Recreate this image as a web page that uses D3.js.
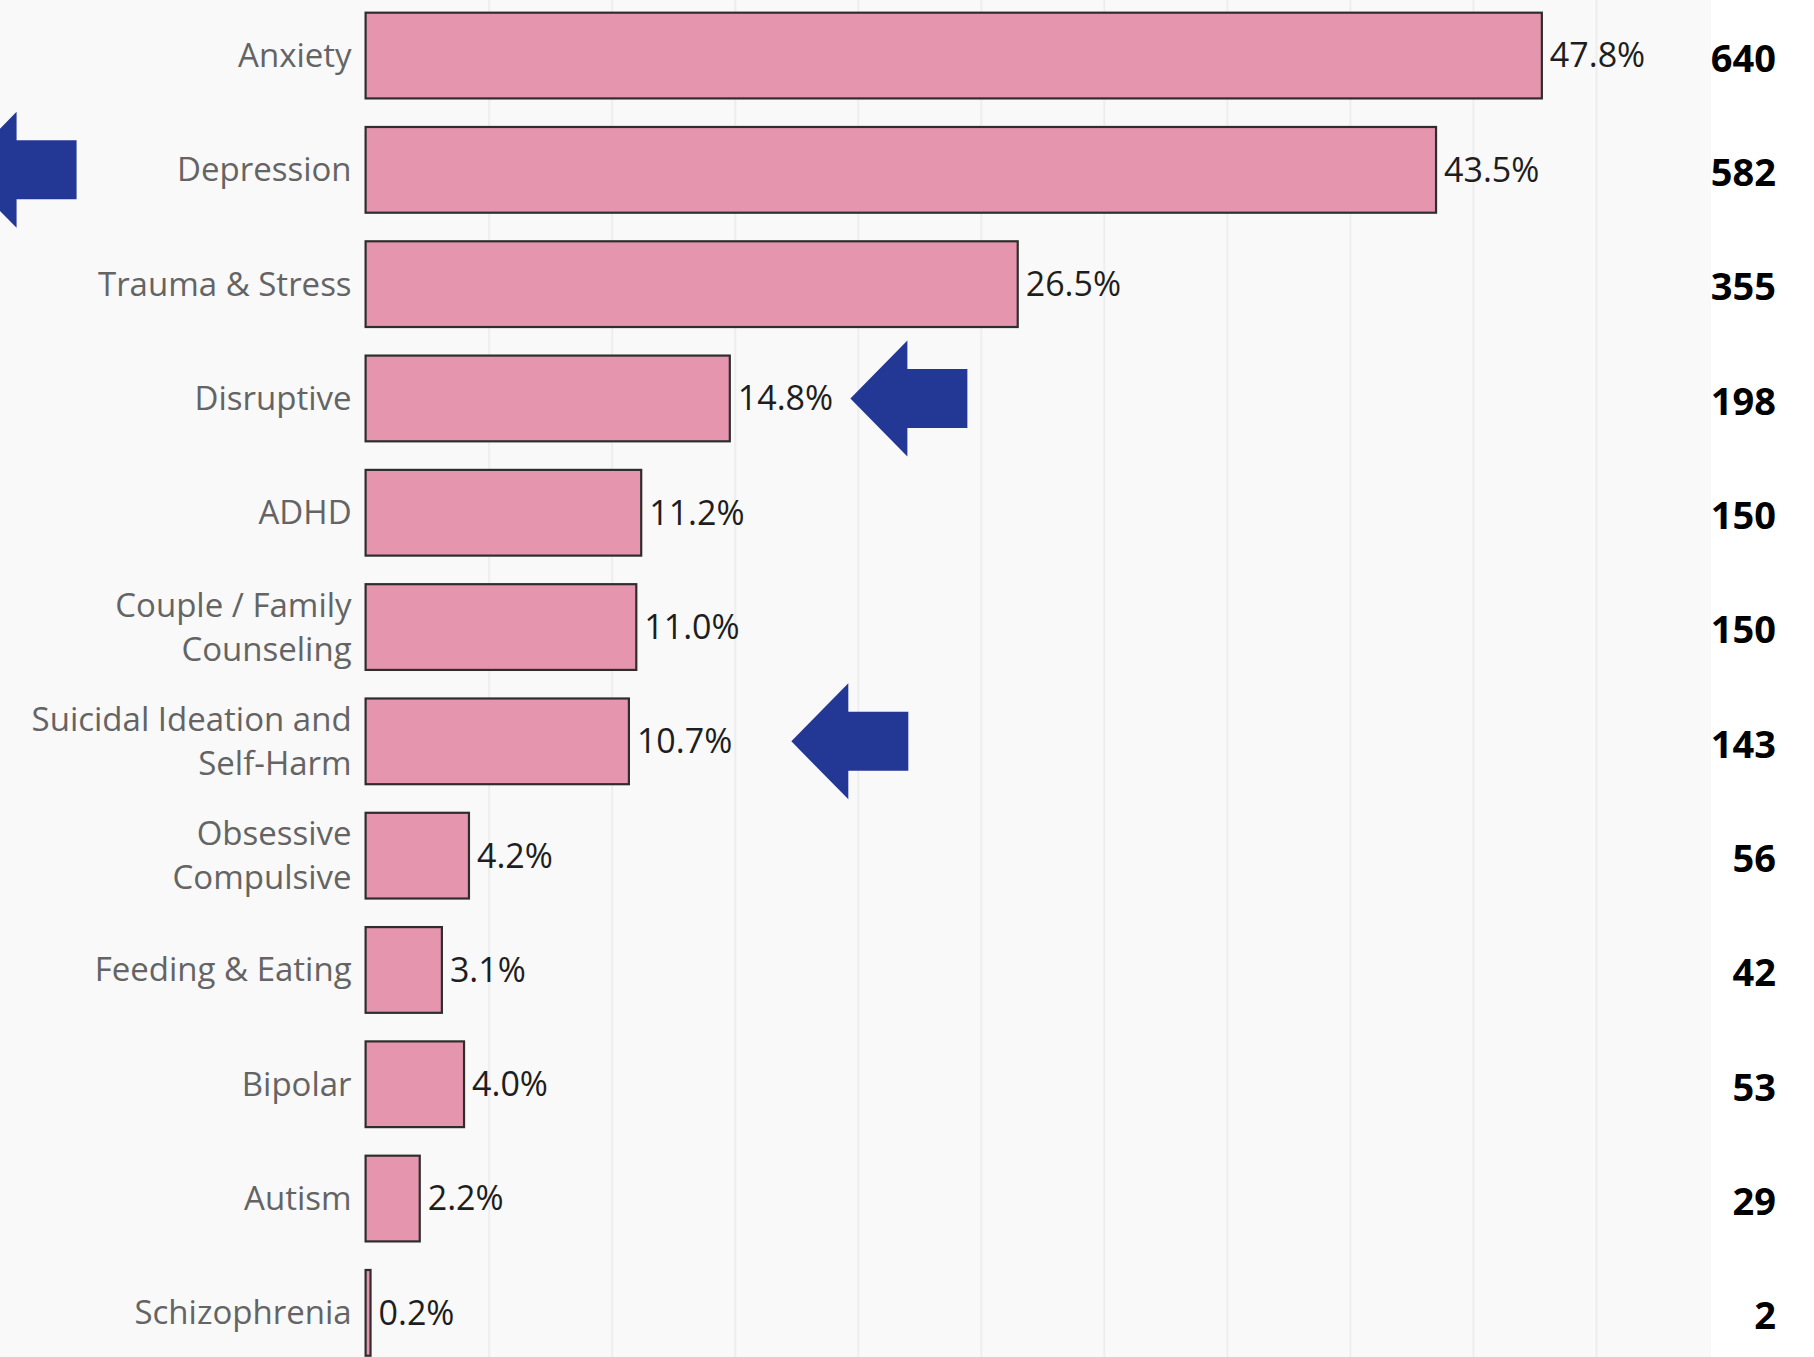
<!DOCTYPE html>
<html>
<head>
<meta charset="utf-8">
<script src="https://cdn.jsdelivr.net/npm/d3@7"></script>
<style>
  body { margin: 0; background: #fff; }
  svg { display: block; }
</style>
</head>
<body>
<svg width="1814" height="1357"></svg>
<script>
// data
var categories = ["Anxiety", "Depression", "Trauma & Stress", "Disruptive", "ADHD",
    "Couple / Family\nCounseling", "Suicidal Ideation and\nSelf-Harm", "Obsessive\nCompulsive",
    "Feeding & Eating", "Bipolar", "Autism", "Schizophrenia"];
var percents = [47.8, 43.5, 26.5, 14.8, 11.2, 11.0, 10.7, 4.2, 3.1, 4.0, 2.2, 0.2];
var counts = [640, 582, 355, 198, 150, 150, 143, 56, 42, 53, 29, 2];
var gridTicks = [5, 10, 15, 20, 25, 30, 35, 40, 45, 50];
// arrows: which row, and where the tip sits on the % axis
var arrowRows = ["Depression", "Disruptive", "Suicidal Ideation and\nSelf-Harm"];
var arrowTips = [-16.5, 19.7, 17.3];

var svg = d3.select("svg"),
    width = +svg.attr("width"),
    height = +svg.attr("height");

var rows = categories.map(function(c, i) {
    return {cat: c, pct: percents[i], n: counts[i]};
});

var x = d3.scaleLinear().domain([0, 50]).range([365.6, 1596]);
var y = d3.scaleBand().domain(categories)
    .range([-1.6, 1370])
    .paddingInner(0.25)
    .paddingOuter(0.125);

// backgrounds
svg.append("rect").attr("width", width).attr("height", height).attr("fill", "#ffffff");
svg.append("rect").attr("width", 1711).attr("height", height).attr("fill", "#f9f9f9");

// vertical grid
svg.append("g")
    .attr("class", "grid")
    .call(d3.axisTop(x).tickValues(gridTicks).tickSize(-height).tickFormat(""))
    .call(function(g) { g.select(".domain").remove(); })
    .selectAll("line")
    .attr("stroke", "#eeeeee")
    .attr("stroke-width", 2);

// bars
svg.append("g")
    .selectAll("rect")
    .data(rows)
    .enter().append("rect")
    .attr("x", x(0))
    .attr("y", function(d) { return y(d.cat); })
    .attr("width", function(d) { return x(d.pct) - x(0); })
    .attr("height", y.bandwidth())
    .attr("fill", "#e695af")
    .attr("stroke", "#2e2e2e")
    .attr("stroke-width", 2.2);

// percent labels
svg.append("g")
    .selectAll("text")
    .data(rows)
    .enter().append("text")
    .attr("x", function(d) { return x(d.pct) + 8; })
    .attr("y", function(d) { return y(d.cat) + y.bandwidth() / 2; })
    .attr("dy", "0.35em")
    .attr("fill", "#1e1e1e")
    .style("font-family", "'Open Sans', sans-serif")
    .style("font-size", "34px")
    .text(function(d) { return d.pct.toFixed(1) + "%"; });

// category axis
var yAxis = svg.append("g")
    .attr("transform", "translate(" + (x(0) - 1) + ",0)")
    .call(d3.axisLeft(y).tickSize(0).tickPadding(13));
yAxis.select(".domain").remove();
yAxis.selectAll("text")
    .attr("fill", "#646464")
    .style("font-family", "'Open Sans', sans-serif")
    .style("font-size", "33px")
    .each(function(d) {
        var t = d3.select(this),
            lines = d.split("\n"),
            tx = t.attr("x");
        t.text(null).attr("dy", null);
        lines.forEach(function(line, i) {
            t.append("tspan")
                .attr("x", tx)
                .attr("dy", i == 0 ? (11.5 - (lines.length - 1) * 22) + "px" : "44px")
                .text(line);
        });
    });

// counts column
svg.append("g")
    .selectAll("text")
    .data(rows)
    .enter().append("text")
    .attr("x", 1776)
    .attr("y", function(d) { return y(d.cat) + y.bandwidth() / 2 + 3; })
    .attr("dy", "0.35em")
    .attr("text-anchor", "end")
    .attr("fill", "#000")
    .style("font-family", "'Open Sans', sans-serif")
    .style("font-weight", "bold")
    .style("font-size", "38px")
    .text(function(d) { return d.n; });

// blue arrows
function arrowPath(tx, ty) {
    var headL = 57, headH = 58, shaftH = 29.5, shaftL = 60;
    var p = d3.path();
    p.moveTo(tx, ty);
    p.lineTo(tx + headL, ty - headH);
    p.lineTo(tx + headL, ty - shaftH);
    p.lineTo(tx + headL + shaftL, ty - shaftH);
    p.lineTo(tx + headL + shaftL, ty + shaftH);
    p.lineTo(tx + headL, ty + shaftH);
    p.lineTo(tx + headL, ty + headH);
    p.closePath();
    return p.toString();
}

svg.append("g")
    .selectAll("path")
    .data(arrowRows.map(function(c, i) { return {cat: c, tip: arrowTips[i]}; }))
    .enter().append("path")
    .attr("d", function(d) { return arrowPath(x(d.tip), y(d.cat) + y.bandwidth() / 2); })
    .attr("fill", "#233795");
</script>
</body>
</html>
